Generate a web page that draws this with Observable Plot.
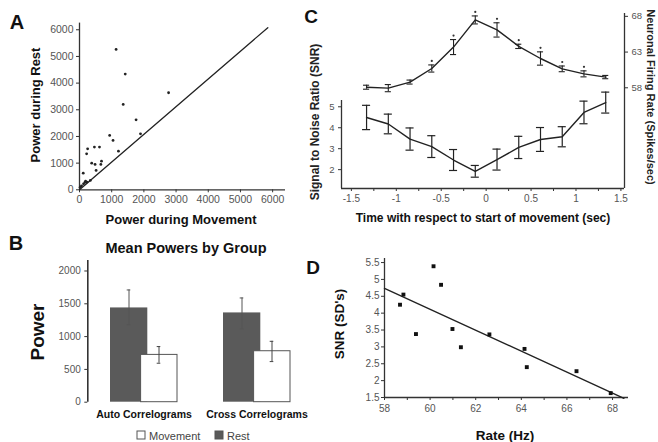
<!DOCTYPE html>
<html><head><meta charset="utf-8">
<script src="https://cdn.jsdelivr.net/npm/d3@7"></script>
<script src="https://cdn.jsdelivr.net/npm/@observablehq/plot@0.6"></script>
<style>
body{margin:0;background:#fff;}
#wrap{position:relative;width:658px;height:442px;overflow:hidden;background:#fff;font-family:"Liberation Sans",Arial,Helvetica,sans-serif;}
#wrap svg{position:absolute;}
</style></head><body><div id="wrap"></div>
<script>
const FONT = '"Liberation Sans", Arial, Helvetica, sans-serif';

// ---------- Panel A : power during movement vs rest ----------
const movementPower = [1137,1421,1358,1758,2768,1895,937,1042,1210,253,221,463,621,379,484,663,684,516,116,189,232,337,126,63,20,168];
const restPower     = [5263,4338,3200,2625,3638,2100,2038,1850,1450,1538,1350,1600,1600,1000,950,950,1075,725,625,325,288,350,225,150,100,275];
const diagX = [0, 5850];
const diagY = [0, 6080];
const ticksA = [0,1000,2000,3000,4000,5000,6000];

// ---------- Panel B : mean powers by group ----------
const groups = ["Auto Correlograms","Cross Correlograms"];
const conditions = ["Movement","Rest"];
const restMean = [1437,1361];
const restLow  = [1183,1117];
const restHigh = [1711,1589];
const moveMean = [721,777];
const moveLow  = [594,619];
const moveHigh = [848,928];
const ticksB = [0,500,1000,1500,2000];

// ---------- Panel C : SNR and firing rate over time ----------
const timeSec  = [-1.331,-1.089,-0.847,-0.605,-0.363,-0.121,0.121,0.363,0.605,0.847,1.089,1.331];
const snrC     = [4.49,4.18,3.46,3.10,2.46,1.92,2.48,3.06,3.44,3.57,4.73,5.20];
const snrErr   = [0.58,0.47,0.53,0.52,0.50,0.28,0.50,0.53,0.57,0.48,0.54,0.50];
const rateC    = [58.08,57.95,58.8,60.7,63.7,67.5,66.1,63.8,62.1,60.65,59.95,59.5];
const rateErr  = [0.28,0.5,0.28,0.5,1.05,0.56,1.0,0.3,0.93,0.4,0.42,0.23];
const rateSig  = [false,false,false,true,true,true,true,true,true,true,true,false];
const ticksCx  = [-1.5,-1.25,-1,-0.75,-0.5,-0.25,0,0.25,0.5,0.75,1,1.25,1.5];
const labelsCx = {"-1.5":"-1.5","-1":"-1","-0.5":"-0.5","0":"0","0.5":"0.5","1":"1","1.5":"1.5"};
const ticksCsnr  = [2,3,4,5];
const ticksCrate = [58,63,68];

// ---------- Panel D : SNR vs rate ----------
const rateHz = [58.68,58.83,59.38,60.15,60.48,60.98,61.35,62.6,64.14,64.24,66.42,67.92];
const snrSD  = [4.25,4.55,3.38,5.39,4.84,3.53,2.99,3.37,2.94,2.40,2.28,1.63];
const fitExtent = [58, 68.5];
const ticksDx = [58,59,60,61,62,63,64,65,66,67,68];
const ticksDy = [1.5,2,2.5,3,3.5,4,4.5,5,5.5];

const wrap = document.getElementById("wrap");
function place(svg, left, top){ svg.style.left = left+"px"; svg.style.top = top+"px"; wrap.appendChild(svg); }
const baseStyle = {fontFamily: FONT, background: "transparent", color: "#333", overflow: "visible"};
const AX = "#333", TXT = "#555";
const plain = d => String(d);

// Panel A
const dataA = movementPower.map((m,i)=>({m, r: restPower[i]}));
const diag = diagX.map((x,i)=>({x, y: diagY[i]}));
place(Plot.plot({
  width: 300, height: 228, marginLeft: 79, marginRight: 15, marginTop: 22.6, marginBottom: 38.7,
  style: {...baseStyle, fontSize: "10px"},
  x: {domain: [0, 6400]}, y: {domain: [0, 6250]},
  marks: [
    Plot.axisX({ticks: ticksA, tickFormat: plain, tickSize: 3, tickPadding: 3, stroke: AX, fill: TXT, label: null, fontSize: 10.5}),
    Plot.axisY({ticks: ticksA, tickFormat: plain, tickSize: 3, tickPadding: 3, stroke: AX, fill: TXT, label: null, fontSize: 10.5}),
    Plot.ruleX([0], {stroke: AX, strokeWidth: 1.3}),
    Plot.ruleY([0], {stroke: AX, strokeWidth: 1.3}),
    Plot.line(diag, {x: "x", y: "y", stroke: "#222", strokeWidth: 1.3}),
    Plot.dot(dataA, {x: "m", y: "r", r: 1.4, fill: "#222", stroke: "none"})
  ]
}), 0, 0);

// Panel B
const dataB = groups.map((g,i)=>({g, rest: restMean[i], rlo: restLow[i], rhi: restHigh[i], move: moveMean[i], mlo: moveLow[i], mhi: moveHigh[i]}));
const marginsB = {width: 300, height: 214, marginLeft: 87.3, marginRight: 3, marginTop: 32, marginBottom: 40.3};
place(Plot.plot({
  ...marginsB,
  style: {...baseStyle, fontSize: "10px"},
  x: {type: "band", domain: groups, range: [103.7, 296.7], paddingInner: 0.3, paddingOuter: 0},
  y: {domain: [0, 2160]},
  marks: [
    Plot.axisY({ticks: ticksB, tickFormat: plain, tickSize: 3, tickPadding: 4, stroke: AX, fill: TXT, label: null, fontSize: 10}),
    Plot.axisX({tickSize: 0, tickPadding: 8, fill: "#111", fontWeight: "bold", fontSize: 10.5, label: null}),
    Plot.barY(dataB, {x: "g", y: "rest", fill: "#5a5a5a", insetLeft: 6, insetRight: 35.7}),
    Plot.ruleX(dataB, {x: "g", y1: "rlo", y2: "rhi", dx: -15, stroke: "#555", strokeWidth: 1}),
    Plot.tickY(dataB, {x: "g", y: "rhi", dx: -15, insetLeft: 37.7, insetRight: 37.7, stroke: "#555"}),
    Plot.tickY(dataB, {x: "g", y: "rlo", dx: -15, insetLeft: 37.7, insetRight: 37.7, stroke: "#555"}),
    Plot.barY(dataB, {x: "g", y: "move", fill: "white", stroke: "#555", strokeWidth: 1, insetLeft: 36.6, insetRight: 6}),
    Plot.ruleX(dataB, {x: "g", y1: "mlo", y2: "mhi", dx: 15, stroke: "#444", strokeWidth: 1}),
    Plot.tickY(dataB, {x: "g", y: "mhi", dx: 15, insetLeft: 37.7, insetRight: 37.7, stroke: "#444"}),
    Plot.tickY(dataB, {x: "g", y: "mlo", dx: 15, insetLeft: 37.7, insetRight: 37.7, stroke: "#444"})
  ]
}), 0, 228);

// Panel C
const dataC = timeSec.map((t,i)=>({t, snr: snrC[i], slo: snrC[i]-snrErr[i], shi: snrC[i]+snrErr[i],
  rate: rateC[i], rlo: rateC[i]-rateErr[i], rhi: rateC[i]+rateErr[i], sig: rateSig[i]}));
const capS = 0.045, capR = 0.034;
const xC = {domain: [-1.61, 1.54]};
place(Plot.plot({
  width: 358, height: 228, marginLeft: 41, marginRight: 34, marginTop: 100, marginBottom: 40,
  style: {...baseStyle, fontSize: "9.5px"},
  x: xC, y: {domain: [1.1, 5.3]},
  marks: [
    Plot.axisX({ticks: ticksCx, tickFormat: d => labelsCx[String(d)] ?? "", tickSize: 3, tickPadding: 3, stroke: AX, fill: TXT, label: null, fontSize: 10}),
    Plot.axisY({ticks: ticksCsnr, tickFormat: plain, tickSize: 3, tickPadding: 4, stroke: AX, fill: TXT, label: null, fontSize: 9.5}),
    Plot.ruleX([-1.61], {stroke: AX, strokeWidth: 1.3}),
    Plot.ruleY([1.1], {stroke: AX, strokeWidth: 1.3}),
    Plot.ruleX(dataC, {x: "t", y1: "slo", y2: "shi", stroke: "#222", strokeWidth: 1.2}),
    Plot.ruleY(dataC, {y: "shi", x1: d => d.t - capS, x2: d => d.t + capS, stroke: "#222", strokeWidth: 1.2}),
    Plot.ruleY(dataC, {y: "slo", x1: d => d.t - capS, x2: d => d.t + capS, stroke: "#222", strokeWidth: 1.2}),
    Plot.line(dataC, {x: "t", y: "snr", stroke: "#222", strokeWidth: 1.4})
  ]
}), 300, 0);
place(Plot.plot({
  width: 358, height: 228, marginLeft: 41, marginRight: 34, marginTop: 13, marginBottom: 40,
  style: {...baseStyle, fontSize: "9.5px"},
  x: {...xC, axis: null}, y: {domain: [43.9, 68.4]},
  marks: [
    Plot.axisY({anchor: "right", ticks: ticksCrate, tickFormat: plain, tickSize: 3, tickPadding: 4, stroke: AX, fill: TXT, label: null, fontSize: 9.5}),
    Plot.ruleX([1.54], {stroke: AX, strokeWidth: 1.3}),
    Plot.ruleX(dataC, {x: "t", y1: "rlo", y2: "rhi", stroke: "#222", strokeWidth: 1.1}),
    Plot.ruleY(dataC, {y: "rhi", x1: d => d.t - capR, x2: d => d.t + capR, stroke: "#222", strokeWidth: 1.1}),
    Plot.ruleY(dataC, {y: "rlo", x1: d => d.t - capR, x2: d => d.t + capR, stroke: "#222", strokeWidth: 1.1}),
    Plot.line(dataC, {x: "t", y: "rate", stroke: "#222", strokeWidth: 1.4}),
    Plot.dot(dataC, {filter: "sig", x: "t", y: "rhi", dy: -4, r: 1.1, fill: "#333", stroke: "none"})
  ]
}), 300, 0);

// Panel D
const dataD = rateHz.map((x,i)=>({x, y: snrSD[i]}));
const mx = d3.mean(rateHz), my = d3.mean(snrSD);
const slope = d3.sum(rateHz, (x,i)=>(x-mx)*(snrSD[i]-my)) / d3.sum(rateHz, x=>(x-mx)**2);
const fit = fitExtent.map(x => ({x, y: my + slope*(x-mx)}));
place(Plot.plot({
  width: 338, height: 212, marginLeft: 64, marginRight: 30, marginTop: 28, marginBottom: 45,
  style: {...baseStyle, fontSize: "10px"},
  x: {domain: [58, 68.7]}, y: {domain: [1.5, 5.62]},
  marks: [
    Plot.axisX({ticks: ticksDx, tickFormat: d => d % 2 === 0 ? String(d) : "", tickSize: 3, tickPadding: 4, stroke: AX, fill: TXT, label: null, fontSize: 10}),
    Plot.axisY({ticks: ticksDy, tickFormat: plain, tickSize: 3, tickPadding: 2, stroke: AX, fill: TXT, label: null, fontSize: 10}),
    Plot.ruleX([58], {stroke: AX, strokeWidth: 1.3}),
    Plot.ruleY([1.5], {stroke: AX, strokeWidth: 1.3}),
    Plot.line(fit, {x: "x", y: "y", stroke: "#222", strokeWidth: 1.4}),
    Plot.dot(dataD, {x: "x", y: "y", symbol: "square", r: 2.2, fill: "#111", stroke: "none"})
  ]
}), 320, 230);

// ---------- text annotations and legend ----------
const ann = d3.select(wrap).append("svg").attr("width", 658).attr("height", 442)
  .style("left", "0px").style("top", "0px").style("font-family", FONT);
function label(txt, x, y, size, weight, rot = 0, fill = "#111", anchor = "middle"){
  ann.append("text").attr("transform", `translate(${x},${y}) rotate(${rot})`)
    .attr("text-anchor", anchor).attr("dominant-baseline", "central")
    .attr("font-size", size).attr("font-weight", weight).attr("fill", fill).text(txt);
}
label("A", 17, 22, 20, "bold");
label("B", 16, 243, 20, "bold");
label("C", 311, 16, 19, "bold");
label("D", 313, 267, 19, "bold");
label("Power during Rest", 35, 105, 13, "bold", -90);
label("Power during Movement", 181, 219, 13, "bold");
label("Mean Powers by Group", 186, 248, 14.5, "bold");
label("Power", 37, 332, 19, "bold", -90);
label("Signal to Noise Ratio (SNR)", 315, 122, 12, "bold", -90, "#222");
label("Neuronal Firing Rate (Spikes/sec)", 651, 97, 11, "bold", 90, "#222");
label("Time with respect to start of movement (sec)", 483, 218, 12, "bold");
label("SNR (SD's)", 339, 324, 13.5, "bold", -90);
label("Rate (Hz)", 505, 435, 13.5, "bold");
// legend for B
const legendFill = {"Movement": "white", "Rest": "#5a5a5a"};
const legendX = {"Movement": 137, "Rest": 215};
conditions.forEach(c => {
  ann.append("rect").attr("x", legendX[c]).attr("y", 431).attr("width", 8).attr("height", 8)
    .attr("fill", legendFill[c]).attr("stroke", "#555").attr("stroke-width", 1);
  label(c, legendX[c] + 12, 435.5, 11, "normal", 0, "#444", "start");
});

// Panel B value-axis line, drawn with a linear overlay of the same frame
place(Plot.plot({
  ...marginsB,
  style: {...baseStyle},
  x: {domain: [0, 1], axis: null}, y: {domain: [0, 2160], axis: null},
  marks: [Plot.ruleX([0], {stroke: AX, strokeWidth: 1.6})]
}), 0, 228);
</script>
</body></html>
